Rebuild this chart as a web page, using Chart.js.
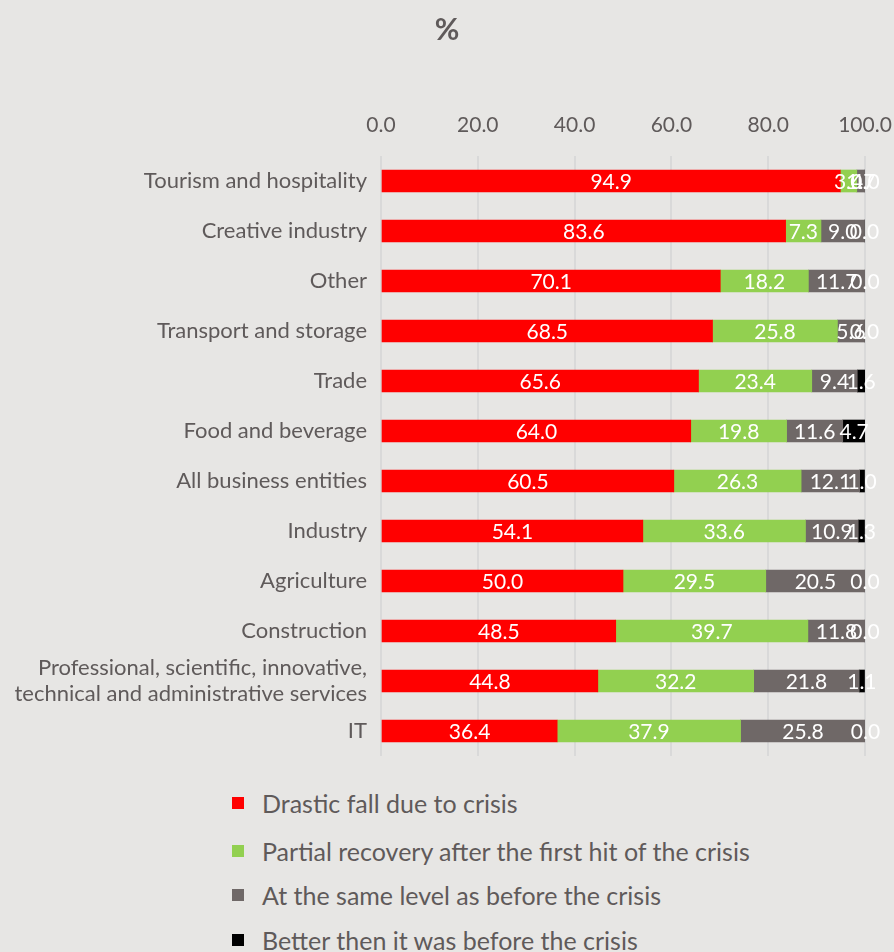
<!DOCTYPE html>
<html>
<head>
<meta charset="utf-8">
<script src="https://cdn.jsdelivr.net/npm/chart.js@4/dist/chart.umd.min.js"></script>
<style>
  html, body { margin: 0; padding: 0; background: #e7e6e4; }
  body { width: 894px; height: 952px; position: relative; overflow: hidden; font-family: Lato, "Open Sans", sans-serif; }
  #wrap { position: absolute; left: 0; top: 0; width: 894px; height: 764px; }
  #legend { position: absolute; left: 232px; top: 788px; }
  .item { position: absolute; left: 0; white-space: nowrap; color: #5f5a5a; font-size: 25px; height: 30px; line-height: 30px; }
  .box { position: absolute; left: 0; top: 9px; width: 12px; height: 12px; }
  .txt { position: absolute; left: 30px; top: 0; }
</style>
</head>
<body>
<div id="wrap"><canvas id="c"></canvas></div>
<div id="legend"></div>
<script>
const categories = [
  'Tourism and hospitality',
  'Creative industry',
  'Other',
  'Transport and storage',
  'Trade',
  'Food and beverage',
  'All business entities',
  'Industry',
  'Agriculture',
  'Construction',
  ['Professional, scientific, innovative,', 'technical and administrative services'],
  'IT'
];
const drasticFall      = [94.9, 83.6, 70.1, 68.5, 65.6, 64.0, 60.5, 54.1, 50.0, 48.5, 44.8, 36.4];
const partialRecovery  = [3.4, 7.3, 18.2, 25.8, 23.4, 19.8, 26.3, 33.6, 29.5, 39.7, 32.2, 37.9];
const sameLevel        = [1.7, 9.0, 11.7, 5.6, 9.4, 11.6, 12.1, 10.9, 20.5, 11.8, 21.8, 25.8];
const betterThanBefore = [0.0, 0.0, 0.0, 0.0, 1.6, 4.7, 1.0, 1.3, 0.0, 0.0, 1.1, 0.0];
const seriesNames = [
  'Drastic fall due to crisis',
  'Partial recovery after the first hit of the crisis',
  'At the same level as before the crisis',
  'Better then it was before the crisis'
];
const tickValues = [0, 20, 40, 60, 80, 100];

const FONT = 'Lato, "Open Sans", sans-serif';
const TEXT = '#5f5a5a';
const colors = ['#ff0000', '#92d050', '#6f6867', '#000000'];

// white value labels centred in each stacked segment
const segmentLabels = {
  id: 'segmentLabels',
  afterDatasetsDraw(chart) {
    const ctx = chart.ctx;
    ctx.save();
    ctx.fillStyle = '#ffffff';
    ctx.font = '21px ' + FONT;
    ctx.textAlign = 'center';
    ctx.textBaseline = 'middle';
    chart.data.datasets.forEach((ds, di) => {
      chart.getDatasetMeta(di).data.forEach((bar, i) => {
        const v = ds.data[i];
        const x = (bar.x + bar.base) / 2;
        ctx.fillText(v.toFixed(1), x, bar.y + 1);
      });
    });
    ctx.restore();
  }
};

const chart = new Chart(document.getElementById('c'), {
  type: 'bar',
  data: {
    labels: categories,
    datasets: [drasticFall, partialRecovery, sameLevel, betterThanBefore].map((d, k) => ({
      label: seriesNames[k],
      data: d,
      backgroundColor: colors[k],
      borderWidth: 0,
      barThickness: 22
    }))
  },
  options: {
    indexAxis: 'y',
    responsive: true,
    maintainAspectRatio: false,
    animation: false,
    layout: { padding: { left: 0, right: 0, top: 0, bottom: 8 } },
    plugins: {
      legend: { display: false },
      tooltip: { enabled: false },
      title: {
        display: true,
        text: '%',
        color: TEXT,
        font: { family: FONT, size: 30 },
        padding: { top: 12, bottom: 8 }
      }
    },
    scales: {
      x: {
        position: 'top',
        stacked: true,
        min: 0,
        max: 100,
        afterBuildTicks(scale) { scale.ticks = tickValues.map(v => ({ value: v })); },
        afterFit(scale) { scale.height = 100; scale.paddingRight = 29; },
        ticks: {
          color: TEXT,
          font: { family: FONT, size: 21 },
          padding: 18,
          maxRotation: 0,
          callback: v => Number(v).toFixed(1)
        },
        grid: { color: '#d9d9d9', lineWidth: 2, drawTicks: false },
        border: { display: false }
      },
      y: {
        stacked: true,
        afterFit(scale) { scale.width = 381; scale.paddingTop = 0; scale.paddingBottom = 0; },
        ticks: {
          color: TEXT,
          font: { family: FONT, size: 22 },
          padding: 6,
          autoSkip: false
        },
        grid: { display: false },
        border: { display: false }
      }
    }
  },
  plugins: [segmentLabels]
});

// legend listed one entry per line below the chart
const legendTops = [0, 48, 92, 137];
const legend = document.getElementById('legend');
seriesNames.forEach((name, k) => {
  const item = document.createElement('div');
  item.className = 'item';
  item.style.top = legendTops[k] + 'px';
  item.innerHTML = '<span class="box" style="background:' + colors[k] + '"></span><span class="txt"></span>';
  item.querySelector('.txt').textContent = name;
  legend.appendChild(item);
});
</script>
</body>
</html>
